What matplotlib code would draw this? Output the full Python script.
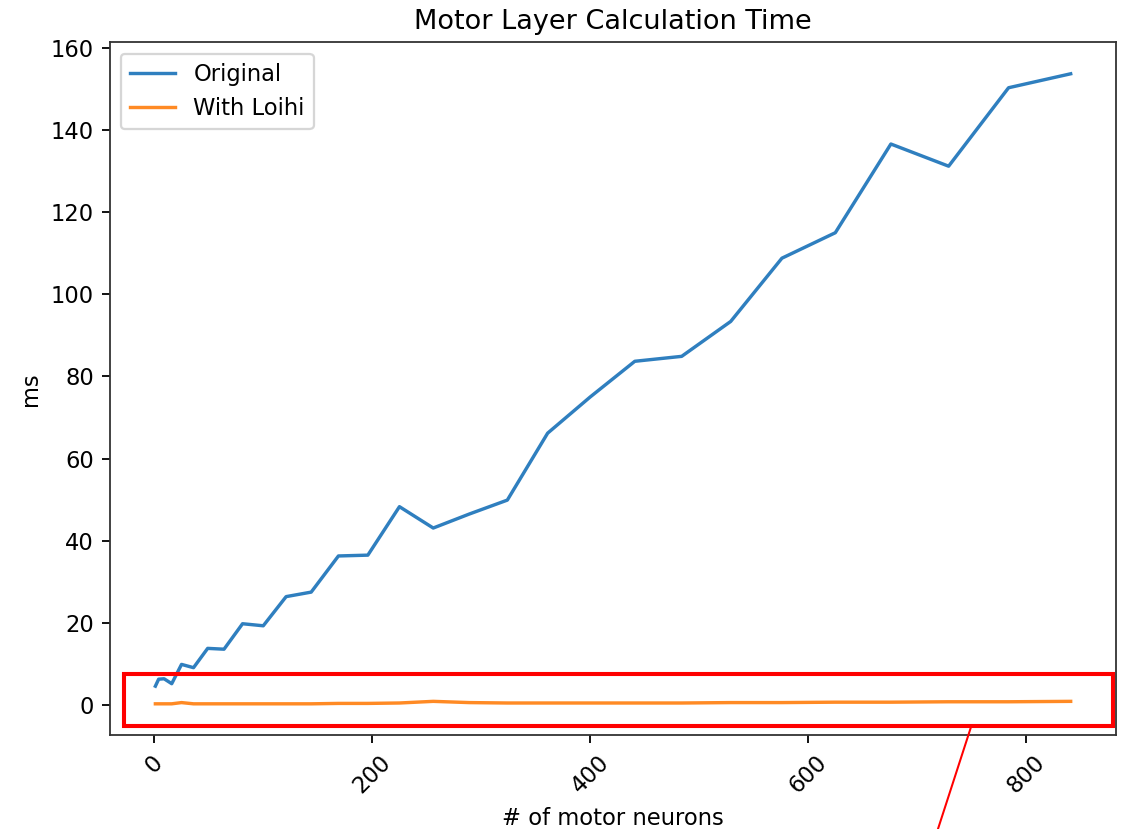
import matplotlib
matplotlib.use("Agg")
import matplotlib.pyplot as plt
from matplotlib.patches import Rectangle
from matplotlib.lines import Line2D

neurons = [1, 4, 9, 16, 25, 36, 49, 64, 81, 100, 121, 144, 169, 196, 225,
           256, 289, 324, 361, 400, 441, 484, 529, 576, 625, 676, 729, 784, 841]
original = [4.6, 6.3, 6.4, 5.2, 9.9, 9.1, 13.8, 13.6, 19.8, 19.3, 26.4, 27.5,
            36.3, 36.5, 48.3, 43.1, 46.5, 49.9, 66.2, 75.0, 83.7, 84.9, 93.4,
            108.8, 115.0, 136.6, 131.2, 150.3, 153.7]
loihi = [0.3, 0.3, 0.3, 0.3, 0.6, 0.3, 0.3, 0.3, 0.3, 0.3, 0.3, 0.3, 0.4,
         0.4, 0.5, 0.9, 0.6, 0.5, 0.5, 0.5, 0.5, 0.5, 0.6, 0.6, 0.7, 0.7,
         0.8, 0.8, 0.9]

DPI = 163
fig = plt.figure(figsize=(1130 / DPI, 829 / DPI), dpi=DPI)
ax = fig.add_axes([0.097, 0.113, 0.891, 0.836])
ax.plot(neurons, original, label="Original", color="#2f7fbf")
ax.plot(neurons, loihi, label="With Loihi", color="#ff8a24")
ax.set_title("Motor Layer Calculation Time")
ax.set_xlabel("# of motor neurons")
ax.set_ylabel("ms")
ax.legend(loc="upper left")
for lab in ax.get_xticklabels():
    lab.set_rotation(45)
for sp in ax.spines.values():
    sp.set_edgecolor("#333333")

# red highlight annotation (figure pixel coordinates)
W, H = 1130, 829
rect = Rectangle((124 / W, 1 - 726 / H), (1113 - 124) / W, (726 - 674) / H,
                 transform=fig.transFigure, fill=False, edgecolor="red",
                 linewidth=1.8, zorder=10)
fig.add_artist(rect)
fig.add_artist(Line2D([971 / W, 937 / W], [1 - 727 / H, 1 - 832 / H],
                      transform=fig.transFigure, color="red", linewidth=0.9,
                      zorder=10))

fig.savefig("out.png", dpi=DPI)
